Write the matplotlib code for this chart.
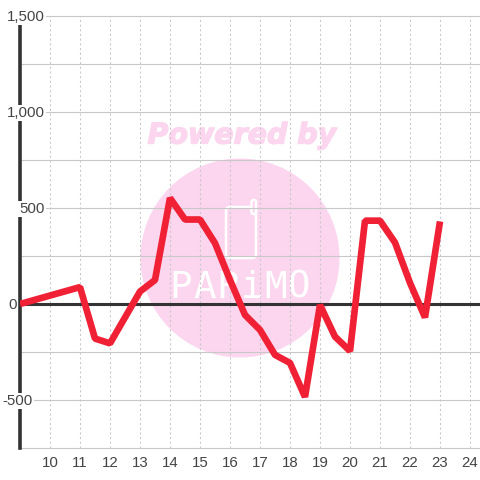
import matplotlib
matplotlib.use('Agg')
import matplotlib.pyplot as plt
import matplotlib.patheffects as pe
from matplotlib.patches import Circle, FancyBboxPatch

# half hourly values
hours = [9, 11, 11.5, 12, 13, 13.5, 14, 14.5, 15, 15.5, 16, 16.5, 17, 17.5, 18, 18.5, 19, 19.5, 20, 20.5, 21, 21.5, 22, 22.5, 23]
values = [0, 88, -180, -205, 65, 125, 552, 440, 440, 317, 125, -57, -135, -265, -307, -484, -5, -170, -245, 434, 434, 320, 110, -70, 430]
x_ticks = [10, 11, 12, 13, 14, 15, 16, 17, 18, 19, 20, 21, 22, 23, 24]
y_labels = ['1,500', '1,000', '500', '0', '-500']
y_label_vals = [1500, 1000, 500, 0, -500]
y_label_left = [7, 7, 19, 8, 2]
y_grid = [-750, -500, -250, 250, 500, 750, 1000, 1250, 1500]

plt.rcParams['font.family'] = ['Liberation Sans', 'DejaVu Sans']
fig = plt.figure(figsize=(4.8, 4.8), dpi=100)

# watermark sits behind the chart, in pixel coords
bg = fig.add_axes([0, 0, 1, 1])
bg.set_xlim(0, 480)
bg.set_ylim(480, 0)
bg.axis('off')
pink = '#fcd5ee'
bg.add_patch(Circle((240, 258), 99.5, color=pink, lw=0))
bg.text(242, 135.5, 'Powered by', color=pink, fontsize=20.5, fontweight='bold', fontstyle='italic',
        family='DejaVu Sans', ha='center', va='center',
        path_effects=[pe.withStroke(linewidth=1, foreground=pink)])
bg.add_patch(FancyBboxPatch((226, 207), 30, 51, boxstyle='round,pad=0,rounding_size=4', fc='none', ec='white', lw=1.8))
bg.add_patch(FancyBboxPatch((251.5, 200), 4.5, 14, boxstyle='round,pad=0,rounding_size=2', fc=pink, ec='white', lw=1.8))
for i, c in enumerate('PARiMO'):
    bg.text(181 + i * 23.6, 288, c, color='white', fontsize=27, family='DejaVu Sans Mono', ha='center', va='center')

ax = fig.add_axes([20 / 480, 32 / 480, 460 / 480, 432 / 480])
ax.patch.set_alpha(0)
ax.set_xlim(9, 24 + 1 / 3)
ax.set_ylim(-750, 1500)
for s in ['top', 'right', 'bottom']:
    ax.spines[s].set_visible(False)
ax.spines['left'].set_color('#333333')
ax.spines['left'].set_linewidth(2.6)
ax.spines['left'].set_zorder(3)

for v in y_grid:
    ax.axhline(v, color='#c8c8c8', lw=0.8, zorder=1, clip_on=False)
for x in x_ticks:
    ax.axvline(x, color='#c8c8c8', lw=0.75, ls=(0, (2, 2.5)), zorder=1)
ax.axhline(0, color='#333333', lw=2.2, zorder=2)
ax.plot(hours, values, color='#f02035', lw=4.8, solid_joinstyle='bevel', solid_capstyle='butt', zorder=4)

ax.set_xticks(x_ticks)
ax.tick_params(axis='x', length=0, pad=6, labelsize=10.8, labelcolor='#444444')
ax.set_yticks([])

# y labels have a white box that cuts through the axis line
for lab, v, left in zip(y_labels, y_label_vals, y_label_left):
    bg_y = ax.transData.transform((0, v))[1]
    ax.annotate(lab, xy=(left / 480, (bg_y - 1) / 480), xycoords='figure fraction', color='#444444', fontsize=10.8,
                ha='left', va='center', zorder=5,
                bbox=dict(fc='white', ec='none', pad=1))

fig.savefig('out.png', dpi=100)
